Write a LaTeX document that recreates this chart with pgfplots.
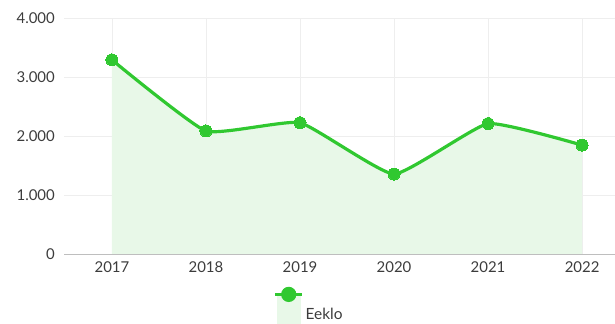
\documentclass[border=0pt]{standalone}
\usepackage{fontspec}
\setmainfont{Lato}
\usepackage{pgfplots}
\pgfplotsset{compat=1.18}
\definecolor{lgreen}{RGB}{48,200,48}
\definecolor{fgreen}{RGB}{232,248,232}
\definecolor{gridc}{RGB}{238,238,238}
\definecolor{txt}{RGB}{60,60,60}
\begin{document}
\fontsize{15}{18}\selectfont
\begin{tikzpicture}
\useasboundingbox (0,0) rectangle (615bp,324bp);
\begin{axis}[
  at={(64bp,70bp)}, anchor=south west,
  scale only axis, width=551bp, height=236bp,
  xmin=-0.51, xmax=5.35, ymin=0, ymax=4000,
  axis x line*=bottom, axis y line*=left,
  y axis line style={draw=none},
  x axis line style={draw=gridc!80!black, line width=0.8pt, -},
  xtick={0,1,2,3,4,5}, xticklabels={2017,2018,2019,2020,2021,2022},
  ytick={0,1000,2000,3000,4000},
  major tick length=0pt,
  grid=major, major grid style={draw=gridc, line width=0.6pt},
  tick label style={text=txt, font=\fontsize{15}{18}\selectfont},
  /pgf/number format/.cd, 1000 sep={.}, assume math mode=true,
  /pgfplots/.cd,
  yticklabel style={xshift=-4bp},
  xticklabel style={yshift=-2bp},
  legend style={at={(0.445,-0.305)}, anchor=south, draw=none, fill=none,
    font=\fontsize{15.5}{18}\selectfont, text=txt,
    /tikz/every even column/.append style={column sep=4bp}},
  legend image code/.code={
    \fill[fgreen] (0.1cm,-0.26cm) rectangle (0.85cm,0.72cm);
    \draw[lgreen, line width=3pt] (0cm,0.72cm) -- (0.95cm,0.72cm);
    \fill[lgreen] (0.475cm,0.72cm) circle (6bp);
  },
]
\addplot[draw=none, fill=fgreen, smooth, tension=0.25, forget plot] coordinates {
  (0,3290) (1,2085) (2,2225) (3,1355) (4,2210) (5,1845)
} \closedcycle;
\addplot[lgreen, line width=3.2pt, smooth, tension=0.25, mark=*, mark size=6bp,
  mark options={fill=lgreen, draw=lgreen, line width=0pt}] coordinates {
  (0,3290) (1,2085) (2,2225) (3,1355) (4,2210) (5,1845)
};
\addlegendentry{Eeklo}
\end{axis}
\end{tikzpicture}
\end{document}
